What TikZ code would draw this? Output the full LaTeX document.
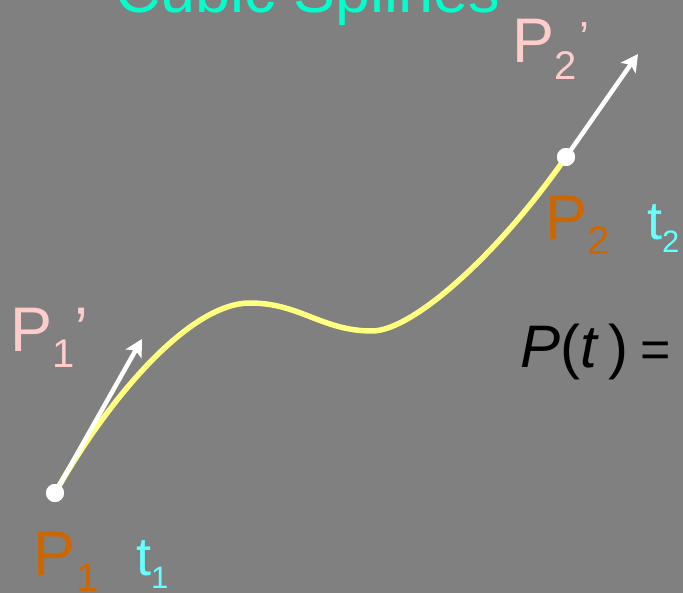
\documentclass[tikz,border=0pt]{standalone}
\usepackage{fontspec}
\setmainfont{Liberation Sans}
\usetikzlibrary{arrows.meta}
\definecolor{bggray}{RGB}{128,128,128}
\definecolor{titlecol}{RGB}{0,255,204}
\definecolor{ptcol}{RGB}{204,102,0}
\definecolor{pinkcol}{RGB}{255,204,204}
\definecolor{tcol}{RGB}{102,255,255}
\definecolor{curvecol}{RGB}{255,255,128}
\tikzset{
  lbl/.style={inner sep=0pt, outer sep=0pt, anchor=base west},
  bigtxt/.style={font=\fontsize{63}{63}\selectfont},
  ttxt/.style={font=\fontsize{54}{54}\selectfont, text=tcol},
  dotnode/.style={circle, fill=white, inner sep=0pt, minimum size=18pt},
  tangent/.style={white, line width=4.5pt, -{Stealth[length=17pt,width=18pt,inset=4pt]}},
  spline/.style={curvecol, line width=5.5pt, line cap=round}
}
\newcommand{\subA}[2]{\raisebox{-#1pt}{\fontsize{40}{40}\selectfont #2}}
\newcommand{\subT}[2]{\raisebox{-#1pt}{\fontsize{31}{31}\selectfont #2}}
\begin{document}
\begin{tikzpicture}[x=1pt,y=-1pt]
\useasboundingbox (0,0) rectangle (683,593);
\clip (0,0) rectangle (683,593);
\fill[bggray] (0,0) rectangle (683,593);
% title
\node[lbl, bigtxt, text=titlecol] (title) at (115,13) {Cubic Splines};
% points
\node[dotnode] (p1) at (55,493) {};
\node[dotnode] (p2) at (566,157) {};
\coordinate (peak) at (250,303);
\coordinate (trough) at (372,331);
\coordinate (t1end) at (142,339);
\coordinate (t2end) at (638,54);
% curve
\draw[spline] (p1.center) .. controls (109,397) and (190,303) .. (peak)
  .. controls (300,303) and (322,331) .. (trough)
  .. controls (412,331) and (497,256) .. (p2.center);
% tangents
\draw[tangent] (p1.center) -- (t1end);
\draw[tangent] (p2.center) -- (t2end);
\node[dotnode] at (p1.center) {};
\node[dotnode] at (p2.center) {};
% labels
\node[lbl, bigtxt, text=ptcol] (lp1) at (34,575) {P\subA{16}{1}};
\node[lbl, ttxt] (lt1) at (136,575) {t\subT{13}{1}};
\node[lbl, bigtxt, text=ptcol] (lp2) at (545,240) {P\subA{15}{2}};
\node[lbl, ttxt] (lt2) at (647,240) {t\subT{13}{2}};
\node[lbl, bigtxt, text=pinkcol] (lp1d) at (10,352) {P\subA{16}{1}’};
\node[lbl, bigtxt, text=pinkcol] (lp2d) at (512,63) {P\subA{17}{2}\hspace{3pt}\raisebox{9pt}{\fontsize{45}{45}\selectfont ’}};
\node[lbl, font=\fontsize{60}{60}\selectfont, text=black] (eq) at (520,368) {\textit{P}(\textit{t}\,)\hspace{12pt}{\fontsize{52}{52}\selectfont =}};
\end{tikzpicture}
\end{document}
